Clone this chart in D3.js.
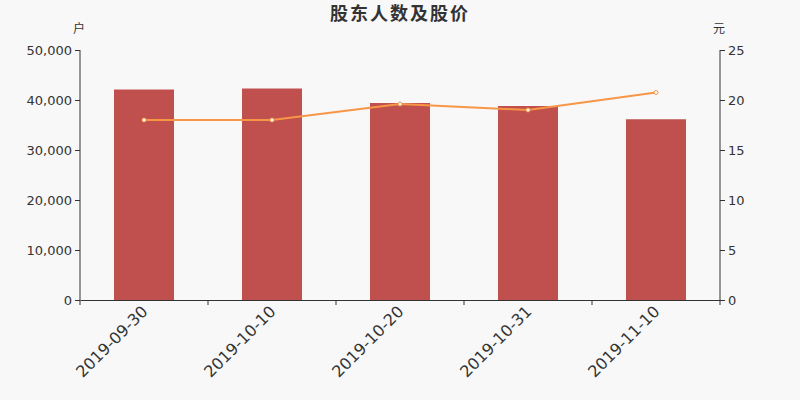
<!DOCTYPE html>
<html><head><meta charset="utf-8">
<script src="https://cdn.jsdelivr.net/npm/d3@7/dist/d3.min.js"></script>
<style>body{margin:0;background:#f8f8f8;}svg{display:block;font-family:"DejaVu Sans","Noto Sans CJK SC",sans-serif;}</style>
</head><body><svg id="c" width="800" height="400"></svg>
<script>
const categories = ["2019-09-30","2019-10-10","2019-10-20","2019-10-31","2019-11-10"];
const holders = [42100, 42300, 39400, 38800, 36150];
const prices = [18.0, 18.0, 19.6, 19.0, 20.75];
const leftTicks = [0,10000,20000,30000,40000,50000];
const rightTicks = [0,5,10,15,20,25];

const svg = d3.select("#c");
svg.append("rect").attr("width",800).attr("height",400).attr("fill","#f8f8f8");
const L=80,R=720,T=50,B=300;
const x = d3.scaleBand().domain(categories).range([L,R]);
const yL = d3.scaleLinear().domain([0,50000]).range([B,T]);
const yR = d3.scaleLinear().domain([0,25]).range([B,T]);
const axColor="#333";

svg.append("g").selectAll("rect").data(categories).join("rect")
  .attr("x",d=>x(d)+x.bandwidth()/2-30).attr("width",60)
  .attr("y",(d,i)=>yL(holders[i])).attr("height",(d,i)=>B-yL(holders[i]))
  .attr("fill","#c0504d");

const gl = svg.append("g").attr("transform",`translate(${L},0)`)
  .call(d3.axisLeft(yL).tickValues(leftTicks).tickFormat(d3.format(",")).tickSize(5).tickPadding(3));
const gr = svg.append("g").attr("transform",`translate(${R},0)`)
  .call(d3.axisRight(yR).tickValues(rightTicks).tickSize(5).tickPadding(3));
const gb = svg.append("g").attr("transform",`translate(0,${B})`)
  .call(d3.axisBottom(x).tickSize(0).tickPadding(8));
// boundary ticks
svg.append("g").selectAll("line").data(d3.range(categories.length+1)).join("line")
  .attr("x1",i=>L+i*x.bandwidth()).attr("x2",i=>L+i*x.bandwidth())
  .attr("y1",B).attr("y2",B+5).attr("stroke",axColor);

[gl,gr,gb].forEach(g=>{
  g.select(".domain").attr("stroke",axColor);
  g.selectAll(".tick line").attr("stroke",axColor);
  g.selectAll("text").attr("fill",axColor).attr("font-size",13).attr("font-family","DejaVu Sans");
});
gl.select(".domain").attr("d",`M0,${T}V${B}`);
gr.select(".domain").attr("d",`M0,${T}V${B}`);
gb.selectAll("text").attr("font-size",16).attr("text-anchor","end")
  .attr("dy","0.35em").attr("transform","translate(-5,3) rotate(-45)");

const line = d3.line().x((d,i)=>x(categories[i])+x.bandwidth()/2).y(d=>yR(d));
svg.append("path").datum(prices).attr("d",line).attr("fill","none")
  .attr("stroke","#f79646").attr("stroke-width",2);
svg.append("g").selectAll("circle").data(prices).join("circle")
  .attr("cx",(d,i)=>x(categories[i])+x.bandwidth()/2).attr("cy",d=>yR(d)).attr("r",2)
  .attr("fill","#fff").attr("stroke","#f79646").attr("stroke-width",1);

svg.append("text").attr("x",400).attr("y",20).attr("text-anchor","middle")
  .attr("font-size",18).attr("letter-spacing",2).attr("font-weight","bold").attr("fill","#333")
  .attr("font-family","Noto Sans CJK SC").text("股东人数及股价");
svg.append("text").attr("x",79).attr("y",33).attr("text-anchor","middle")
  .attr("font-size",12).attr("fill","#333").attr("font-family","Noto Sans CJK SC").text("户");
svg.append("text").attr("x",719).attr("y",33).attr("text-anchor","middle")
  .attr("font-size",12).attr("fill","#333").attr("font-family","Noto Sans CJK SC").text("元");
</script></body></html>
